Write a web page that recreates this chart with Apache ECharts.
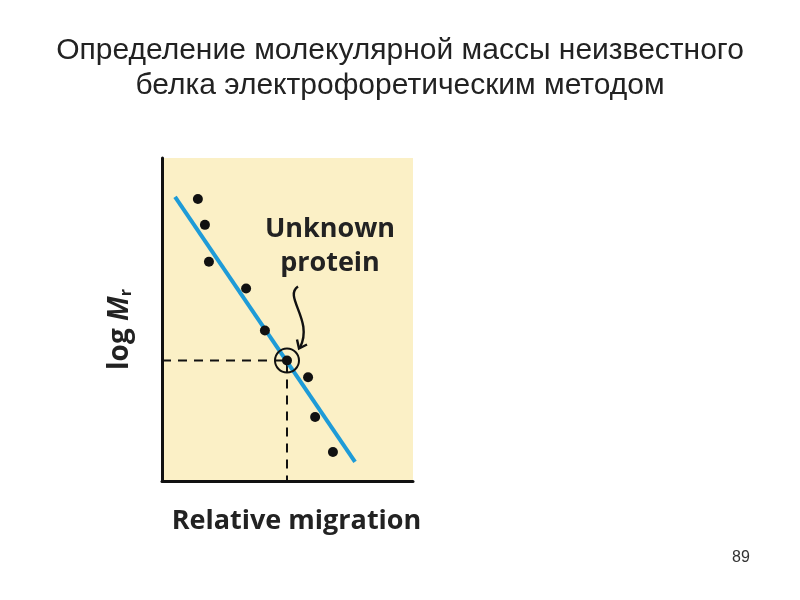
<!DOCTYPE html>
<html>
<head>
<meta charset="utf-8">
<script src="https://cdn.jsdelivr.net/npm/echarts@6/dist/echarts.min.js"></script>
<style>html,body{margin:0;padding:0;background:#fff}#c{width:800px;height:600px}</style>
</head>
<body>
<div id="c"></div>
<script>
// Data (relative units 0..100)
const titleLines = ['Определение молекулярной массы неизвестного', 'белка электрофоретическим методом'];
const standardX = [14.3, 17.1, 18.7, 33.5, 41.0, 58.2, 61.0, 68.1];
const standardY = [87.3, 79.3, 67.9, 59.6, 46.6, 32.1, 19.8, 9.0];
const unknownX = [49.8];
const unknownY = [37.3];
const fitX = [5.2, 76.9];
const fitY = [88.0, 5.9];
const xName = 'Relative migration';
const annotation = ['Unknown', 'protein'];
const pageNumber = '89';

const chart = echarts.init(document.getElementById('c'));
const pts = standardX.map((x, i) => [x, standardY[i]]).concat([[unknownX[0], unknownY[0]]]);
const fit = fitX.map((x, i) => [x, fitY[i]]);
const dash = [[0, unknownY[0]], [unknownX[0], unknownY[0]], [unknownX[0], 0]];

chart.setOption({
  animation: false,
  title: {
    text: titleLines.join('\n'),
    left: 'center', top: 28,
    textStyle: { fontFamily: 'Liberation Sans', fontWeight: 'normal', fontSize: 30, color: '#222', lineHeight: 35 }
  },
  grid: { left: 162, top: 158, width: 251, height: 323, show: true, backgroundColor: '#FBF0C6', borderWidth: 0 },
  xAxis: {
    type: 'value', min: 0, max: 100,
    name: xName, nameLocation: 'middle', nameGap: 27,
    nameTextStyle: { fontFamily: 'Open Sans', fontWeight: 'bold', fontSize: 27, color: '#222', padding: [0, 0, 0, 18] },
    axisLine: { show: true, onZero: false, lineStyle: { color: '#111', width: 3 } },
    axisTick: { show: false }, axisLabel: { show: false }, splitLine: { show: false }
  },
  yAxis: {
    type: 'value', min: 0, max: 100,
    name: '{a|log }{b|M}{c|r}', nameLocation: 'middle', nameGap: 28, nameRotate: 90,
    nameTextStyle: {
      padding: [0, 20, 0, 0],
      rich: {
        a: { fontFamily: 'Open Sans', fontWeight: 'bold', fontSize: 28, color: '#222' },
        b: { fontFamily: 'Open Sans', fontWeight: 'bold', fontStyle: 'italic', fontSize: 28, color: '#222' },
        c: { fontFamily: 'Open Sans', fontWeight: 'bold', fontSize: 16, color: '#222', verticalAlign: 'bottom', padding: [10, 0, 0, 0] }
      }
    },
    axisLine: { show: true, onZero: false, lineStyle: { color: '#111', width: 3 } },
    axisTick: { show: false }, axisLabel: { show: false }, splitLine: { show: false }
  },
  series: [
    { type: 'line', data: dash, symbol: 'none', lineStyle: { color: '#111', width: 2, type: [9, 7] }, z: 2 },
    { type: 'line', data: fit, symbol: 'none', lineStyle: { color: '#1E9BD7', width: 4 }, z: 3 },
    { type: 'scatter', data: pts, symbolSize: 10, itemStyle: { color: '#111', opacity: 1 }, z: 4 },
    { type: 'scatter', data: [[unknownX[0], unknownY[0]]], symbolSize: 24,
      itemStyle: { color: 'rgba(0,0,0,0)', borderColor: '#111', borderWidth: 2, opacity: 1 }, z: 5 }
  ]
});

// Annotation and arrow positioned from data coordinates
const u = chart.convertToPixel({ gridIndex: 0 }, [unknownX[0], unknownY[0]]);
const ux = u[0], uy = u[1];
chart.setOption({
  graphic: [
    { type: 'text', x: ux + 43, y: uy - 148, style: { text: annotation.join('\n'), align: 'center',
      font: 'bold 27px "Open Sans"', lineHeight: 34, fill: '#222' } },
    { type: 'bezierCurve', shape: { x1: ux + 11, y1: uy - 74, cpx1: ux - 4, cpy1: uy - 64, cpx2: ux + 27, cpy2: uy - 40, x2: ux + 13, y2: uy - 13 },
      style: { stroke: '#111', lineWidth: 2.4, fill: null } },
    { type: 'polyline', shape: { points: [[ux + 10, uy - 21], [ux + 12, uy - 12], [ux + 20, uy - 16]] },
      style: { stroke: '#111', lineWidth: 2.4, fill: null } },
    { type: 'text', style: { text: pageNumber, x: 741, y: 558, align: 'center', verticalAlign: 'middle', font: '16px "Liberation Sans"', fill: '#333' } }
  ]
});
</script>
</body>
</html>
